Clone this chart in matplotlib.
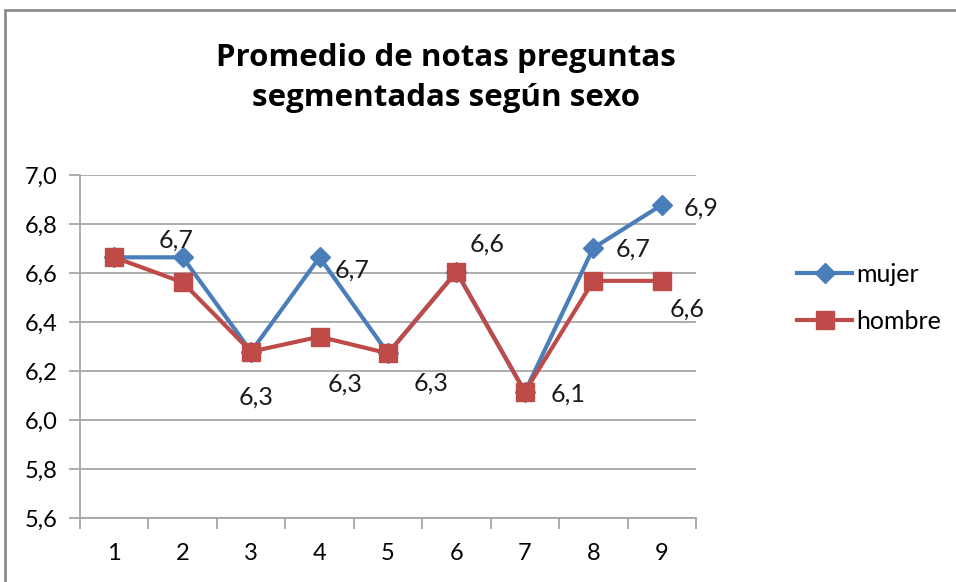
import matplotlib
matplotlib.use("Agg")
import matplotlib.pyplot as plt
from matplotlib.patches import Rectangle
from matplotlib.lines import Line2D

plt.rcParams['font.family'] = ['Lato', 'DejaVu Sans']

# preguntas 1..9
preguntas = [1, 2, 3, 4, 5, 6, 7, 8, 9]
mujer = [6.664, 6.664, 6.279, 6.664, 6.272, 6.605, 6.115, 6.702, 6.878]
hombre = [6.664, 6.562, 6.279, 6.340, 6.272, 6.605, 6.115, 6.568, 6.568]
y_ticks = [5.6, 5.8, 6.0, 6.2, 6.4, 6.6, 6.8, 7.0]

# which points get a value label: (serie, index, offset x px, offset y px)
etiquetas = [("mujer", 1, -7, 17), ("mujer", 2, 5, -45), ("mujer", 3, 33, -13),
             ("hombre", 3, 26, -47), ("mujer", 4, 43, -30), ("mujer", 5, 31, 28),
             ("mujer", 6, 43, -2), ("mujer", 7, 40, -1), ("mujer", 8, 39, -3),
             ("hombre", 8, 25, -28)]

AZUL = "#4a7ebb"
ROJO = "#be4b48"
GRIS = "#a6a6a6"

fig = plt.figure(figsize=(9.56, 5.82), dpi=100)
fig.patches.append(Rectangle((5 / 956, -0.1), 1.2, 1 - 10 / 582 + 0.1, transform=fig.transFigure,
                             fill=False, edgecolor="#8c8c8c", linewidth=2))

ax = fig.add_axes([80 / 956, 1 - 518 / 582, (696 - 80) / 956, (518 - 175) / 582])

ax.plot(preguntas, mujer, color=AZUL, linewidth=3, marker="D", markersize=10, zorder=3)
ax.plot(preguntas, hombre, color=ROJO, linewidth=3, marker="s", markersize=13, zorder=4)

series = {"mujer": mujer, "hombre": hombre}
for nombre, i, dx, dy in etiquetas:
    v = series[nombre][i]
    ax.annotate(f"{v:.1f}".replace(".", ","), (preguntas[i], v), xytext=(dx, dy),
                textcoords="offset pixels", ha="center", va="center", fontsize=18,
                color="#1a1a1a", zorder=5)

ax.set_xlim(0.5, 9.5)
ax.set_ylim(5.6, 7.0)
ax.set_yticks(y_ticks)
ax.set_yticklabels([f"{t:.1f}".replace(".", ",") for t in y_ticks])
ax.set_xticks(preguntas)
ax.set_xticks([p + 0.5 for p in [0] + preguntas], minor=True)
ax.tick_params(axis="x", which="major", length=0, pad=18, labelsize=17)
ax.tick_params(axis="x", which="minor", length=8, color=GRIS, width=1.3)
ax.tick_params(axis="y", length=8, color=GRIS, width=1.3, labelsize=17, pad=8)
ax.grid(axis="y", color=GRIS, linewidth=1.3)
ax.set_axisbelow(True)
for s in ["top", "right"]:
    ax.spines[s].set_visible(False)
for s in ["left", "bottom"]:
    ax.spines[s].set_color(GRIS)
    ax.spines[s].set_linewidth(1.3)

fig.text(446 / 956, 1 - 78 / 582, "Promedio de notas preguntas\nsegmentadas según sexo",
         ha="center", va="center", fontsize=22.5, fontweight="bold", linespacing=1.45,
         family=["Open Sans", "DejaVu Sans"])

handles = [Line2D([], [], color=AZUL, linewidth=3, marker="D", markersize=10),
           Line2D([], [], color=ROJO, linewidth=3, marker="s", markersize=13)]
fig.legend(handles, ["mujer", "hombre"], loc="center left", bbox_to_anchor=(797 / 956, 1 - 298 / 582),
           frameon=False, fontsize=18, handlelength=2.2, handletextpad=0.15, labelspacing=0.95,
           borderpad=0, borderaxespad=0)

fig.savefig("out.png", dpi=100)
